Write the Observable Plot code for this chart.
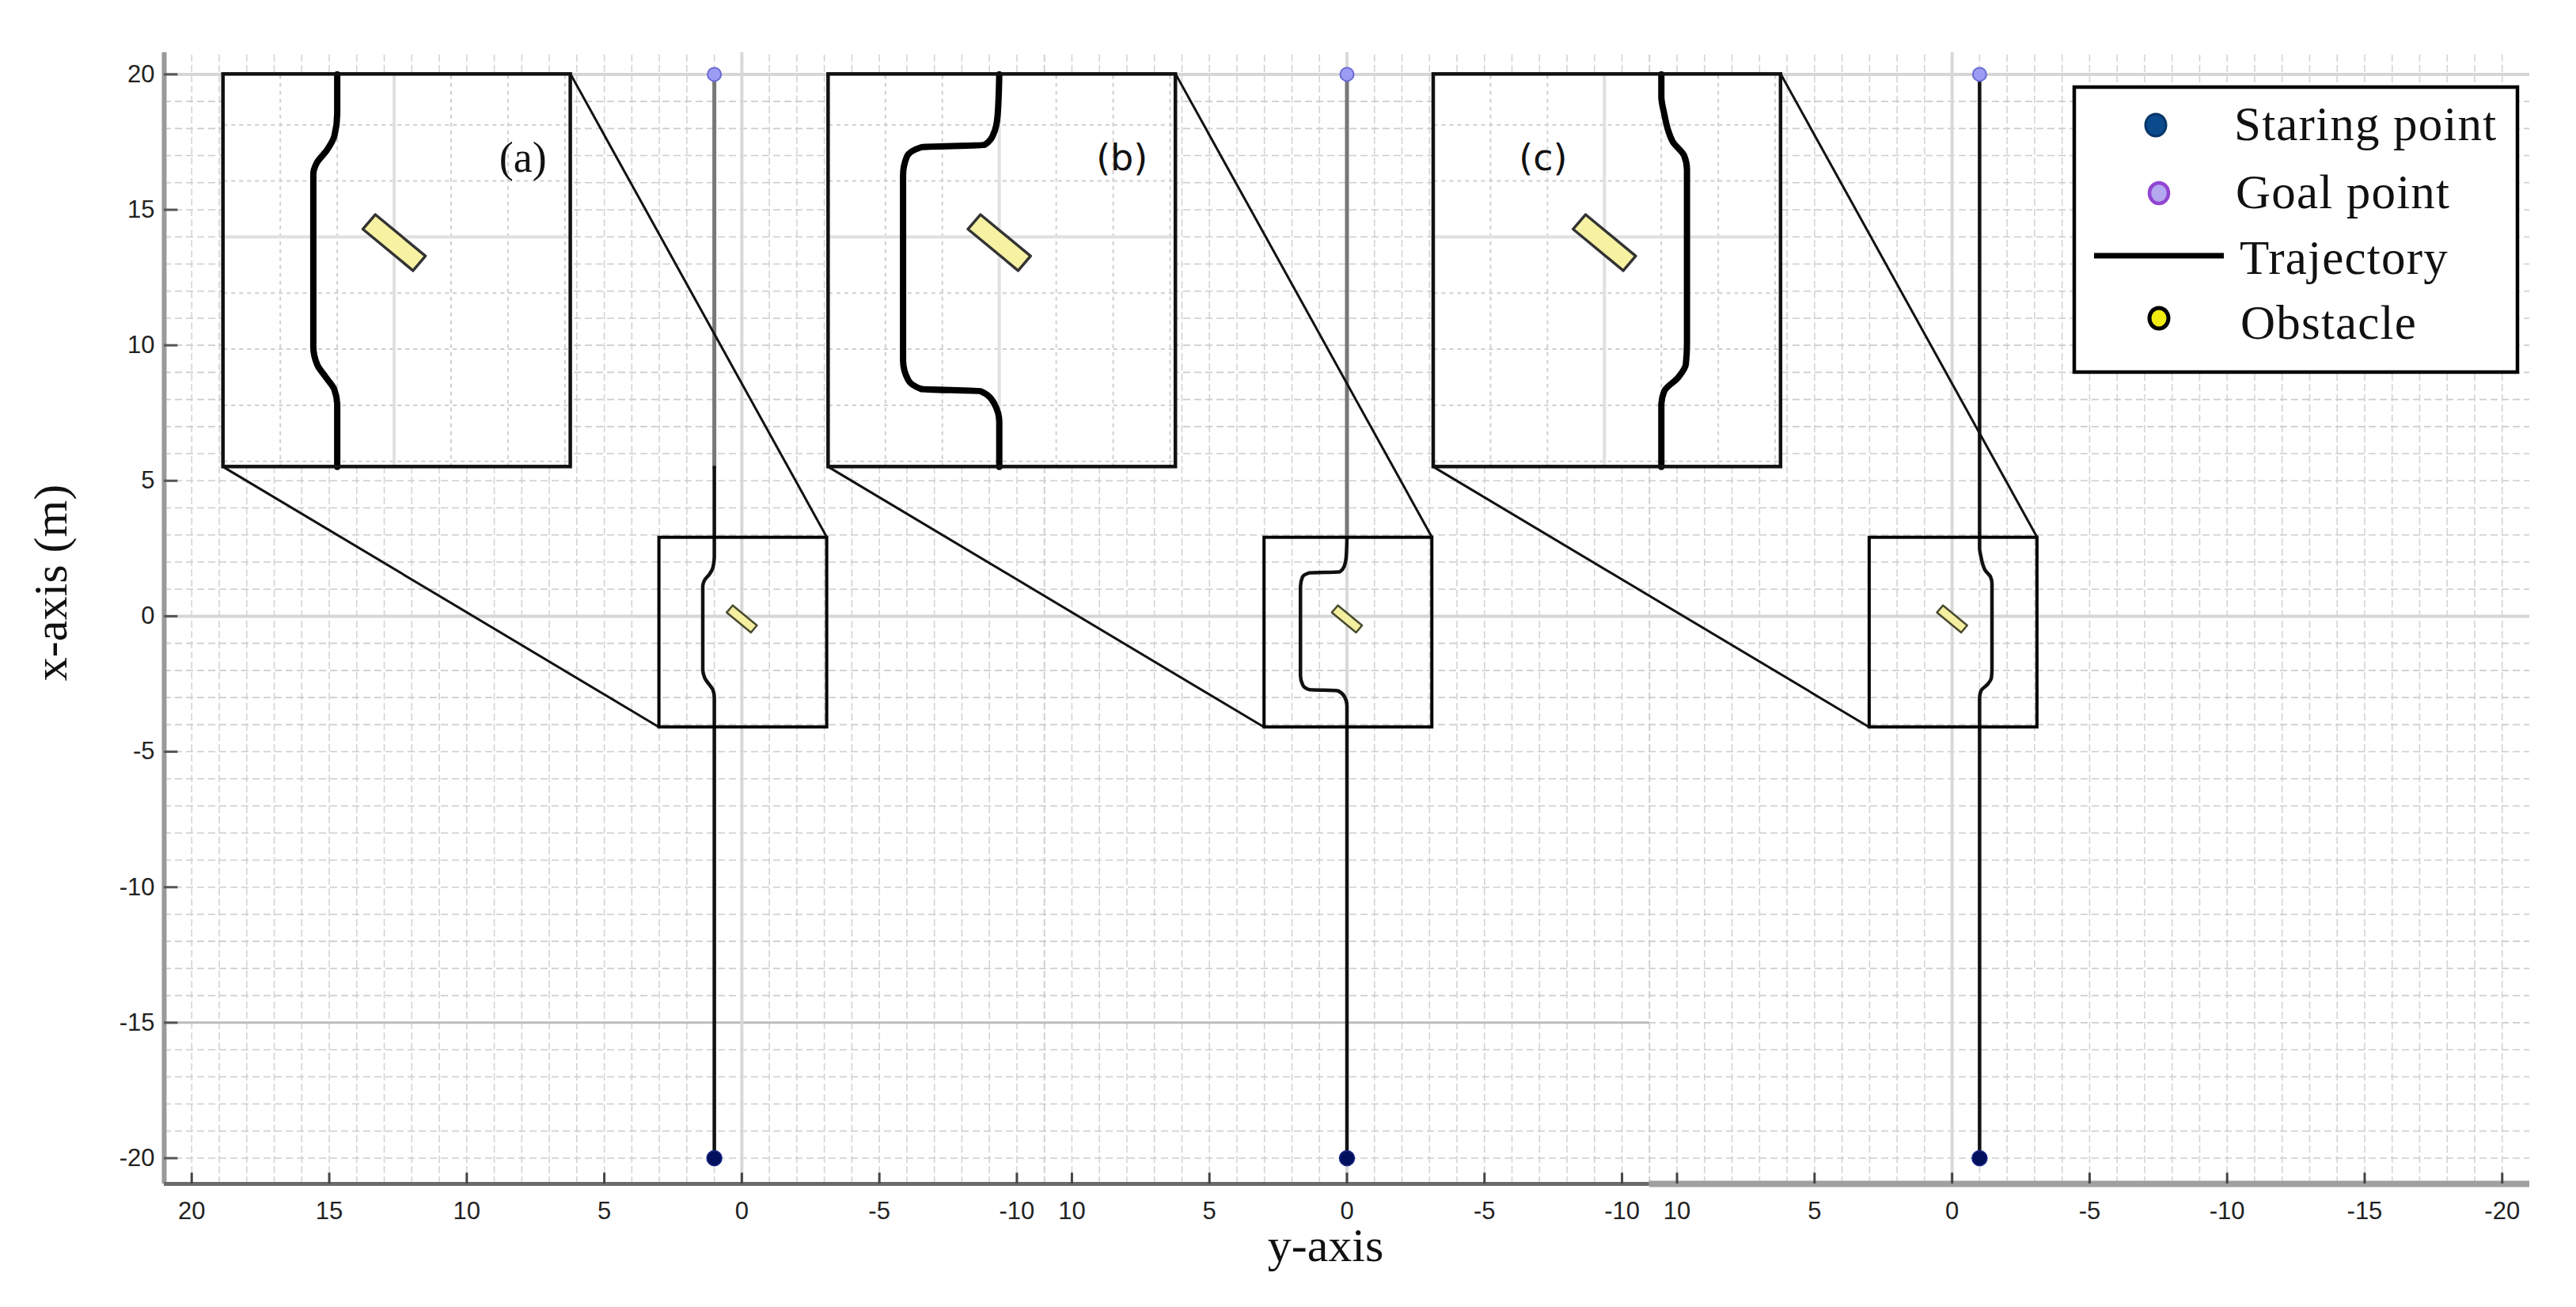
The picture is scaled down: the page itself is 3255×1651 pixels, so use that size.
<!DOCTYPE html>
<html><head><meta charset="utf-8">
<script src="https://cdn.jsdelivr.net/npm/d3@7"></script>
<script src="https://cdn.jsdelivr.net/npm/@observablehq/plot@0.6"></script>
<style>
html,body{margin:0;padding:0;background:#fff;}
#wrap{position:relative;width:3255px;height:1651px;overflow:hidden;}
#wrap svg{position:absolute;left:0;top:0;}
</style></head><body><div id="wrap"></div>
<script>
// ---------------- data ----------------
const panelNames = ["a", "b", "c"];
const panelDomains = [[21, -11], [11, -11], [11, -21]];   // y-axis range of each stitched panel (left -> right)
const yDomain = [-20.95, 20.8];                              // x-axis (m)
const yTicks = [-20, -15, -10, -5, 0, 5, 10, 15, 20];
const xTickLabels = [
  [20, 15, 10, 5, 0, -5, -10],
  [10, 5, 0, -5, -10],
  [10, 5, 0, -5, -10, -15, -20]
];
const startPoints = [[1, -20], [0, -20], [-1, -20]];
const goalPoints  = [[1, 20], [0, 20], [-1, 20]];
// trajectories, [y-axis value, x-axis value], from start to goal
const trajA = [[1,-20],[1,-3.0],[1.05,-2.72],[1.2,-2.5],[1.35,-2.28],[1.42,-1.95],[1.42,1.12],[1.36,1.32],[1.18,1.55],[1.05,1.8],[1,2.2],[1,20]];
const trajB = [[0,-20],[0,-3.3],[0.1,-2.95],[0.33,-2.75],[1.37,-2.71],[1.6,-2.55],[1.69,-2.2],[1.69,1.1],[1.62,1.44],[1.37,1.6],[0.26,1.64],[0.1,1.84],[0.03,2.16],[0,2.9],[0,20]];
const trajC = [[-1,-20],[-1,-3.0],[-1.05,-2.75],[-1.3,-2.5],[-1.43,-2.27],[-1.45,-1.9],[-1.45,1.2],[-1.4,1.45],[-1.2,1.7],[-1.12,1.9],[-1.05,2.2],[-1,2.5],[-1,20]];
const trajectories = [trajA, trajB, trajC];
const grayAbove = [5.5, 2.9, 20];          // trajectory drawn grey above this x-axis value
const zoomBoxX = [3, -3.1];                // zoomed region, y-axis
const zoomBoxY = [-4.1, 2.9];              // zoomed region, x-axis
const obstacleCenter = [0, -0.1];
const obstacleLength = 1.15, obstacleWidth = 0.34, obstacleAngle = 40;
const panelLabels = ["(a)", "(b)", "(c)"];
const legendLabels = ["Staring point", "Goal point", "Trajectory", "Obstacle"];

// ---------------- layout ----------------
const W = 3255, H = 1651;
const M = {left: 207, right: 59, top: 66, bottom: 156};
const insetLeft = 18.85, insetTop = 20, mag = 2.07;       // inset placement in panel coordinates
const labelPos = [[7.96, 16.9], [8.18, 16.9], [14.87, 16.9]];

// stitched horizontal coordinate u
let acc = 0;
const origin = panelDomains.map(d => { const o = acc + d[0]; acc += d[0] - d[1]; return o; });
const totalU = acc;
const U = (p, v) => origin[p] - v;
const clampY = y => Math.max(zoomBoxY[0], Math.min(zoomBoxY[1], y));
const insetPt = (p, x, y) => ({u: U(p, insetLeft - (zoomBoxX[0] - x) * mag), y: insetTop - (zoomBoxY[1] - y) * mag});
const mainPt = (p, x, y) => ({u: U(p, x), y});
const p3start = origin[2] - panelDomains[2][0];

// ticks
const tickRows = [];
xTickLabels.forEach((arr, p) => arr.forEach(v => tickRows.push({u: U(p, v), label: String(v)})));
const tickU = tickRows.map(d => d.u);
const tickLabel = new Map(tickRows.map(d => [d.u, d.label]));

// grid
const vGrid = [], vMajor = [];
panelDomains.forEach((d, p) => {
  for (let v = Math.floor(d[0]); v >= Math.ceil(d[1]); v--) {
    const u = U(p, v);
    if (u > 0.01 && u < totalU - 0.01) vGrid.push(u);
  }
  vMajor.push(U(p, 0));
});
const hGrid = d3.range(-20, 21);

// trajectories (main view)
const trajRows = [];
trajectories.forEach((pts, p) => {
  const cut = grayAbove[p];
  const last = pts[pts.length - 1];
  const black = pts.filter(d => d[1] < cut).concat([[last[0], Math.min(cut, last[1])]]);
  black.filter((d, i) => i === 0 || d[1] !== black[i - 1][1])
    .forEach(([x, y]) => trajRows.push({...mainPt(p, x, y), k: "b" + p, part: "black"}));
  if (cut < last[1]) [[last[0], cut], last]
    .forEach(([x, y]) => trajRows.push({...mainPt(p, x, y), k: "g" + p, part: "gray"}));
});
// trajectories (magnified view, clipped to the zoom box)
const insetTraj = [];
trajectories.forEach((pts, p) => {
  const cl = pts.map(([x, y]) => [x, clampY(y)]);
  cl.filter((d, i) => i === 0 || d[1] !== cl[i - 1][1])
    .forEach(([x, y]) => insetTraj.push({...insetPt(p, x, y), k: p}));
});

// obstacles
function obstacle(p, map, id) {
  const a = obstacleAngle * Math.PI / 180;
  const dx = Math.cos(a), dy = Math.sin(a), nx = -Math.sin(a), ny = Math.cos(a);
  const hl = obstacleLength / 2, hw = obstacleWidth / 2, c = obstacleCenter;
  return [[1,1],[1,-1],[-1,-1],[-1,1],[1,1]].map(([s, t]) =>
    ({...map(p, c[0] + s*hl*dx + t*hw*nx, c[1] + s*hl*dy + t*hw*ny), id}));
}
const obsMain = [], obsInset = [];
panelNames.forEach((n, p) => { obsMain.push(...obstacle(p, mainPt, p)); obsInset.push(...obstacle(p, insetPt, p)); });

// boxes, insets, connectors
const boxes = [], insets = [], links = [], igridMinor = [], igridMajor = [], labels = [];
panelNames.forEach((n, p) => {
  boxes.push({u1: U(p, zoomBoxX[0]), u2: U(p, zoomBoxX[1]), y1: zoomBoxY[0], y2: zoomBoxY[1]});
  const tl = insetPt(p, zoomBoxX[0], zoomBoxY[1]), br = insetPt(p, zoomBoxX[1], zoomBoxY[0]);
  insets.push({u1: tl.u, u2: br.u, y1: br.y, y2: tl.y});
  const tr = insetPt(p, zoomBoxX[1], zoomBoxY[1]), bl = insetPt(p, zoomBoxX[0], zoomBoxY[0]);
  links.push({x1: tr.u, y1: tr.y, x2: U(p, zoomBoxX[1]), y2: zoomBoxY[1]});
  links.push({x1: bl.u, y1: bl.y, x2: U(p, zoomBoxX[0]), y2: zoomBoxY[0]});
  for (let x = Math.floor(zoomBoxX[0]); x >= Math.ceil(zoomBoxX[1]); x--) {
    const a = insetPt(p, x, zoomBoxY[0]), b = insetPt(p, x, zoomBoxY[1]);
    (x === 0 ? igridMajor : igridMinor).push({x1: a.u, y1: a.y, x2: b.u, y2: b.y});
  }
  for (let y = Math.floor(zoomBoxY[1]); y >= Math.ceil(zoomBoxY[0]); y--) {
    const a = insetPt(p, zoomBoxX[0], y), b = insetPt(p, zoomBoxX[1], y);
    (y === 0 ? igridMajor : igridMinor).push({x1: a.u, y1: a.y, x2: b.u, y2: b.y});
  }
  labels.push({u: U(p, labelPos[p][0]), y: labelPos[p][1], text: panelLabels[p], serif: p === 0});
});

const starts = startPoints.map(([x, y], p) => mainPt(p, x, y));
const goals = goalPoints.map(([x, y], p) => mainPt(p, x, y));

const chart = Plot.plot({
  width: W, height: H,
  marginLeft: M.left, marginRight: M.right, marginTop: M.top, marginBottom: M.bottom,
  x: {domain: [0, totalU]},
  y: {domain: yDomain},
  style: {background: "transparent", fontFamily: "'Liberation Sans', Arial, sans-serif", fontSize: "31px", color: "#222"},
  marks: [
    // grid
    Plot.ruleY(hGrid, {y: d => d, x1: 0, x2: totalU, stroke: "#c4c4c4", strokeWidth: 1.6, strokeDasharray: "9,5", strokeOpacity: 0.85}),
    Plot.ruleX(vGrid, {x: d => d, y1: yDomain[0], y2: yDomain[1], stroke: "#cdcdcd", strokeWidth: 1.6, strokeDasharray: "9,4", strokeOpacity: 0.85}),
    Plot.ruleY([0, 20], {y: d => d, x1: 0, x2: totalU, stroke: "#d6d6d6", strokeWidth: 4}),
    Plot.ruleY([-15], {y: d => d, x1: 0, x2: p3start, stroke: "#bcbcbc", strokeWidth: 3}),
    Plot.ruleX(vMajor, {x: d => d, y1: yDomain[0], y2: yDomain[1], stroke: "#d8d8d8", strokeWidth: 4}),
    // axes
    Plot.ruleX([0], {x: d => d, y1: yDomain[0], y2: yDomain[1], stroke: "#9a9a9a", strokeWidth: 6}),
    Plot.ruleY([yDomain[0]], {y: d => d, x1: 0, x2: p3start, stroke: "#6a6a6a", strokeWidth: 5}),
    Plot.ruleY([yDomain[0]], {y: d => d, x1: p3start, x2: totalU, stroke: "#a0a0a0", strokeWidth: 8}),
    Plot.ruleY(yTicks, {y: d => d, x1: 0, x2: 0.5, stroke: "#555", strokeWidth: 3}),
    Plot.ruleX(tickU, {x: d => d, y1: yDomain[0], y2: yDomain[0] + 0.4, stroke: "#444", strokeWidth: 3}),
    Plot.axisY(yTicks, {tickSize: 0, tickPadding: 12, tickFormat: d => String(d), label: null, fontSize: 31}),
    Plot.axisX(tickU, {tickSize: 0, tickPadding: 22, tickFormat: d => tickLabel.get(d), label: null, fontSize: 31}),
    // trajectories
    Plot.line(trajRows.filter(d => d.part === "gray"), {x: "u", y: "y", z: "k", stroke: "#777", strokeWidth: 5}),
    Plot.line(trajRows.filter(d => d.part === "black"), {x: "u", y: "y", z: "k", stroke: "#111", strokeWidth: 4.5, curve: "monotone-y"}),
    Plot.line(obsMain, {x: "u", y: "y", z: "id", fill: "#f4eea0", stroke: "#4a4a30", strokeWidth: 2.5}),
    // zoom boxes and connectors
    Plot.rect(boxes, {x1: "u1", x2: "u2", y1: "y1", y2: "y2", fill: "none", stroke: "#000", strokeWidth: 4}),
    Plot.link(links, {x1: "x1", y1: "y1", x2: "x2", y2: "y2", stroke: "#111", strokeWidth: 3}),
    Plot.dot(goals, {x: "u", y: "y", r: 8.5, fill: "#9c9cf2", stroke: "#6a6ad6", strokeWidth: 2}),
    Plot.dot(starts, {x: "u", y: "y", r: 9.5, fill: "#00105c", stroke: "#1a2a8a", strokeWidth: 1.5}),
    // insets
    Plot.rect(insets, {x1: "u1", x2: "u2", y1: "y1", y2: "y2", fill: "#fff"}),
    Plot.link(igridMinor, {x1: "x1", y1: "y1", x2: "x2", y2: "y2", stroke: "#cfcfcf", strokeWidth: 2, strokeDasharray: "5,5"}),
    Plot.link(igridMajor, {x1: "x1", y1: "y1", x2: "x2", y2: "y2", stroke: "#e0e0e0", strokeWidth: 4}),
    Plot.line(insetTraj, {x: "u", y: "y", z: "k", stroke: "#000", strokeWidth: 8, curve: "monotone-y"}),
    Plot.line(obsInset, {x: "u", y: "y", z: "id", fill: "#f6f2a2", stroke: "#333", strokeWidth: 3.5}),
    Plot.rect(insets, {x1: "u1", x2: "u2", y1: "y1", y2: "y2", fill: "none", stroke: "#111", strokeWidth: 4.5}),
    Plot.text(labels.filter(d => d.serif), {x: "u", y: "y", text: "text", fontSize: 54, fontFamily: "'Liberation Serif', serif", fill: "#111", textAnchor: "middle", lineAnchor: "middle"}),
    Plot.text(labels.filter(d => !d.serif), {x: "u", y: "y", text: "text", fontSize: 46, fontFamily: "'DejaVu Sans', sans-serif", fill: "#111", textAnchor: "middle", lineAnchor: "middle"})
  ]
});
document.getElementById("wrap").appendChild(chart);

// overlay: axis titles and legend
const svg = d3.select("#wrap").append("svg").attr("width", W).attr("height", H);
svg.append("text").attr("x", 1675).attr("y", 1593).attr("text-anchor", "middle")
  .attr("font-family", "'Liberation Serif', serif").attr("font-size", 60).attr("fill", "#111").text("y-axis");
svg.append("text").attr("transform", "translate(84,736) rotate(-90)").attr("text-anchor", "middle")
  .attr("font-family", "'Liberation Serif', serif").attr("font-size", 60).attr("fill", "#111").text("x-axis (m)");
const lg = svg.append("g");
lg.append("rect").attr("x", 2621).attr("y", 110).attr("width", 560).attr("height", 360)
  .attr("fill", "#fff").attr("stroke", "#000").attr("stroke-width", 4.5);
const rowY = [158, 244, 323, 402], textY = [177, 263, 346, 428], textX = [2823, 2825, 2830, 2831];
legendLabels.forEach((t, i) => {
  if (i === 0) lg.append("ellipse").attr("cx", 2724).attr("cy", rowY[i]).attr("rx", 13).attr("ry", 14).attr("fill", "#0b4a8c").attr("stroke", "#063568").attr("stroke-width", 3);
  if (i === 1) lg.append("ellipse").attr("cx", 2728).attr("cy", rowY[i]).attr("rx", 12).attr("ry", 13).attr("fill", "#b4a8f0").attr("stroke", "#9246d2").attr("stroke-width", 4.5);
  if (i === 2) lg.append("line").attr("x1", 2646).attr("x2", 2810).attr("y1", rowY[i]).attr("y2", rowY[i]).attr("stroke", "#000").attr("stroke-width", 7);
  if (i === 3) lg.append("ellipse").attr("cx", 2728).attr("cy", rowY[i]).attr("rx", 12).attr("ry", 13).attr("fill", "#f0ec10").attr("stroke", "#000").attr("stroke-width", 5);
  lg.append("text").attr("x", textX[i]).attr("y", textY[i]).attr("font-family", "'Liberation Serif', serif")
    .attr("font-size", 61).attr("letter-spacing", 1.2).attr("fill", "#111").text(t);
});
</script></body></html>
